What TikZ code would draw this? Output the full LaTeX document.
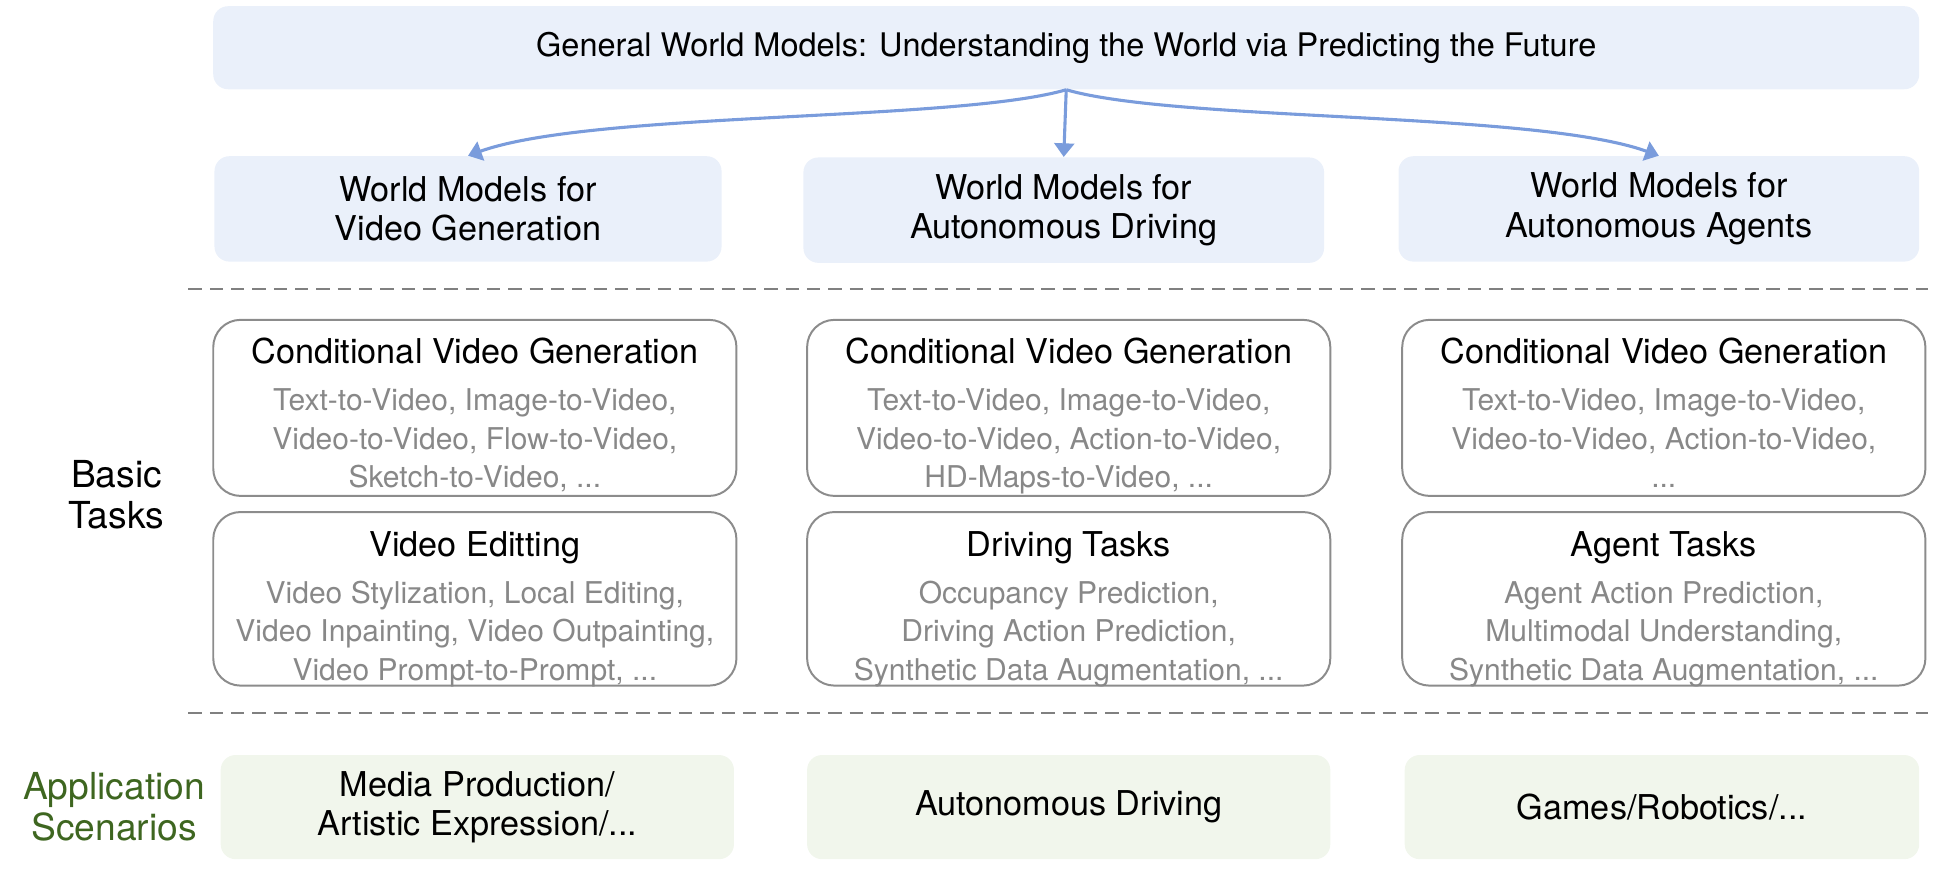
\documentclass[tikz,border=0pt]{standalone}
\usepackage{fontspec}
\setmainfont{TeX Gyre Heros}
\usetikzlibrary{arrows.meta,
    positioning}

\definecolor{headblue}{RGB}{234,240,250}
\definecolor{arrblue}{RGB}{122,156,220}
\definecolor{boxgray}{RGB}{140,140,140}
\definecolor{txtgray}{RGB}{136,136,136}
\definecolor{dashgray}{RGB}{128,128,128}
\definecolor{appfill}{RGB}{241,246,236}
\definecolor{appgreen}{RGB}{62,102,32}
\newcommand{\graytxt}[1]{{\fontsize{12.1}{15.5}\selectfont\textcolor{txtgray}{#1}}}

\begin{document}
\begin{tikzpicture}[x=0.5pt, y=-0.5pt,
                  font = \fontsize{13.8}{15.5}\selectfont,
                  head/.style = {fill=headblue, rounded corners=6pt, align=center,
                                 inner sep=0pt, minimum height=42.5pt},
                  task/.style = {draw=boxgray, line width=0.8pt, rounded corners=11pt,
                                 inner sep=0pt, minimum width=211pt},
                  tasktxt/.style = {anchor=north, align=center, inner sep=0pt},
                  side/.style = {align=center, font=\fontsize{15}{16}\selectfont},
                  app/.style = {fill=appfill, rounded corners=6pt, align=center,
                                inner sep=0pt, minimum height=42pt},
                  arr/.style = {draw=arrblue, line width=1.25pt,
                                -{Triangle[length=5.5pt, width=8pt]}},
                  sep/.style = {draw=dashgray, line width=1pt, dash pattern=on 5.4pt off 3.2pt}
                  ]
\useasboundingbox (0,0) rectangle (1568,705);
% header
\node (top) [head, minimum width=688pt, minimum height=33.5pt,
             font=\fontsize{13.1}{15.5}\selectfont] at (860,38.5)
      {General World Models: Understanding the World via Predicting the Future};
\node (vg) [head, minimum width=204.5pt] at (377.5,168.5) {World Models for\\[0.5pt]Video Generation};
\node (ad) [head, minimum width=210pt] at (858,169.5) {World Models for\\[0.5pt]Autonomous Driving};
\node (aa) [head, minimum width=210pt] at (1338,168.5) {World Models for\\[0.5pt]Autonomous Agents};
\draw[arr] (top.south) .. controls +(-90,26) and +(100,-36) .. (vg.north);
\draw[arr] (top.south) -- (ad.north);
\draw[arr] (top.south) .. controls +(90,26) and +(-100,-36) .. (aa.north);
\draw[sep] (152,233) -- (1555,233);
% basic tasks
\node (basic) [side] at (94,399) {Basic\\[0.5pt]Tasks};
\foreach \x/\n/\a/\b/\c in {383/vg/{Text-to-Video, Image-to-Video,}/{Video-to-Video, Flow-to-Video,}/{Sketch-to-Video, ...},
                            862/ad/{Text-to-Video, Image-to-Video,}/{Video-to-Video, Action-to-Video,}/{HD-Maps-to-Video, ...},
                            1342/aa/{Text-to-Video, Image-to-Video,}/{Video-to-Video, Action-to-Video,}/{...}}
  {
  \node (cond-\n) [task, minimum height=71pt] at (\x,329) {};
  \node [tasktxt] at ([yshift=-7.5pt]cond-\n.north)
        {Conditional Video Generation\\[3.5pt]\graytxt{\a}\\\graytxt{\b}\\\graytxt{\c}};
  }
\foreach \x/\n/\t/\a/\b/\c in {383/vg/{Video Editting}/{Video Stylization, Local Editing,}/{Video Inpainting, Video Outpainting,}/{Video Prompt-to-Prompt, ...},
                               862/ad/{Driving Tasks}/{Occupancy Prediction,}/{Driving Action Prediction,}/{Synthetic Data Augmentation, ...},
                               1342/aa/{Agent Tasks}/{Agent Action Prediction,}/{Multimodal Understanding,}/{Synthetic Data Augmentation, ...}}
  {
  \node (spec-\n) [task, minimum height=70pt] at (\x,483) {};
  \node [tasktxt] at ([yshift=-8pt]spec-\n.north)
        {\t\\[3.5pt]\graytxt{\a}\\\graytxt{\b}\\\graytxt{\c}};
  }
\draw[sep] (152,575) -- (1555,575);
% application scenarios
\node (scen) [side, text=appgreen] at (92,651) {Application\\[0.5pt]Scenarios};
\node (app-vg) [app, minimum width=207pt] at (385,651) {Media Production/\\[0.5pt]Artistic Expression/...};
\node (app-ad) [app, minimum width=211pt] at (862,651) {Autonomous Driving};
\node (app-aa) [app, minimum width=207.5pt] at (1340.5,651) {Games/Robotics/...};
\end{tikzpicture}
\end{document}
